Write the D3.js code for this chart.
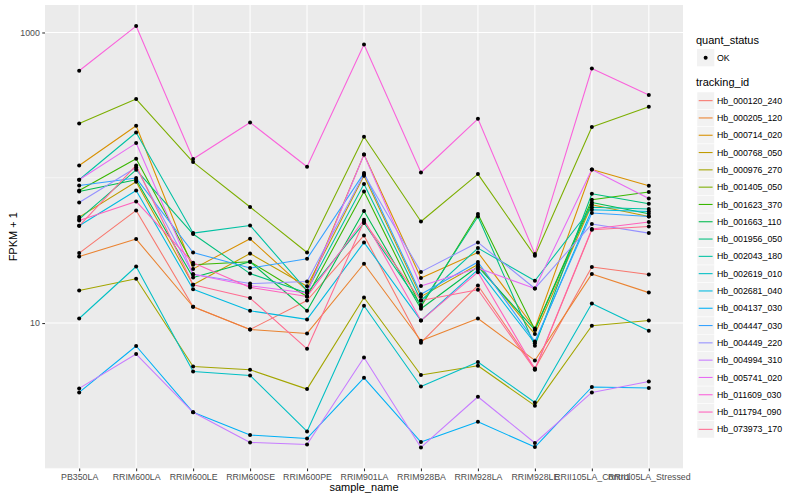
<!DOCTYPE html>
<html>
<head>
<meta charset="utf-8">
<script src="https://cdn.jsdelivr.net/npm/d3@7"></script>
<style>
  body { margin: 0; background: #fff; }
  text { font-family: "Liberation Sans", Arial, Helvetica, sans-serif; }
</style>
</head>
<body>
<svg id="chart" width="800" height="500"></svg>
<script>
/* ============================================================
   DATA  (FPKM + 1, one array per tracking id)
   ============================================================ */
const SAMPLES = ['PB350LA', 'RRIM600LA', 'RRIM600LE', 'RRIM600SE', 'RRIM600PE', 'RRIM901LA',
                 'RRIM928BA', 'RRIM928LA', 'RRIM928LE', 'RRII105LA_Control', 'RRII105LA_Stressed'];

const TRACKING_IDS = ['Hb_000120_240', 'Hb_000205_120', 'Hb_000714_020', 'Hb_000768_050', 'Hb_000976_270',
                      'Hb_001405_050', 'Hb_001623_370', 'Hb_001663_110', 'Hb_001956_050', 'Hb_002043_180',
                      'Hb_002619_010', 'Hb_002681_040', 'Hb_004137_030', 'Hb_004447_030', 'Hb_004449_220',
                      'Hb_004994_310', 'Hb_005741_020', 'Hb_011609_030', 'Hb_011794_090', 'Hb_073973_170'];

const SERIES_COLORS = ['#F8766D', '#EA8331', '#D89000', '#C09B00', '#A3A500', '#7CAE00', '#39B600', '#00BB4E',
                       '#00BF7D', '#00C1A3', '#00BFC4', '#00BAE0', '#00B0F6', '#35A2FF', '#9590FF', '#C77CFF',
                       '#E76BF3', '#FA62DB', '#FF62BC', '#FF6C91'];

const Hb_000120_240 = [30.3, 59.6, 12.95, 9.03, 14.3, 40.1, 7.32, 18.15, 4.87, 24.3, 21.6];
const Hb_000205_120 = [28.7, 37.85, 12.95, 9.03, 8.48, 25.6, 7.55, 10.75, 5.53, 21.8, 16.2];
const Hb_000714_020 = [121.5, 228, 23.6, 38.0, 16.7, 144.7, 20.4, 30.6, 9.18, 114, 88.1];
const Hb_000768_050 = [53.6, 93.9, 18.35, 30.1, 17.9, 103.2, 15.2, 25.3, 8.40, 65.2, 54.2];
const Hb_000976_270 = [16.77, 20.2, 5.03, 4.77, 3.51, 15.0, 4.39, 5.08, 2.70, 9.58, 10.4];
const Hb_001405_050 = [236.5, 348, 128.2, 62.9, 30.6, 191.5, 50.0, 106.0, 29.05, 223.3, 308];
const Hb_001623_370 = [81.7, 135.1, 25.2, 26.4, 15.25, 80.5, 12.95, 56.3, 8.99, 70.6, 79.7];
const Hb_001663_110 = [80.5, 96.9, 20.6, 26.4, 12.15, 59.0, 12.54, 24.5, 8.99, 67.6, 56.5];
const Hb_001956_050 = [51.97, 113.5, 41.0, 21.9, 16.1, 48.8, 13.3, 54.2, 6.98, 77.6, 66.2];
const Hb_002043_180 = [96.9, 205, 41.6, 47.0, 16.7, 90.5, 14.3, 32.8, 19.55, 62.65, 60.9];
const Hb_002619_010 = [10.75, 24.5, 4.64, 4.36, 1.795, 13.15, 3.66, 5.39, 2.84, 13.65, 8.85];
const Hb_002681_040 = [46.7, 81.7, 17.1, 12.15, 10.6, 35.9, 10.4, 23.3, 7.26, 60.2, 58.6];
const Hb_004137_030 = [3.33, 6.95, 2.43, 1.695, 1.606, 4.20, 1.517, 2.09, 1.402, 3.63, 3.57];
const Hb_004447_030 = [88.5, 99.5, 30.6, 23.9, 27.7, 107.7, 15.8, 26.3, 7.47, 57.2, 54.2];
const Hb_004449_220 = [67.6, 117.7, 21.7, 18.7, 19.3, 105.7, 22.5, 35.9, 17.3, 48.0, 41.6];
const Hb_004994_310 = [3.55, 6.12, 2.43, 1.508, 1.46, 5.80, 1.393, 3.11, 1.494, 3.33, 3.96];
const Hb_005741_020 = [96.9, 173.3, 21.7, 18.06, 16.1, 144.7, 17.97, 23.9, 17.3, 114, 72.0];
const Hb_011609_030 = [545, 1107, 134.5, 240.3, 119.0, 826.5, 108.7, 254.7, 29.85, 565, 370.7];
const Hb_011794_090 = [50.8, 68.7, 26.0, 17.6, 15.25, 51.4, 10.4, 22.4, 4.81, 44.4, 49.6];
const Hb_073973_170 = [46.7, 121.5, 18.35, 14.86, 6.65, 50.0, 14.3, 16.95, 4.77, 43.85, 46.2];

const SERIES_VALUES = [Hb_000120_240, Hb_000205_120, Hb_000714_020, Hb_000768_050, Hb_000976_270,
                       Hb_001405_050, Hb_001623_370, Hb_001663_110, Hb_001956_050, Hb_002043_180,
                       Hb_002619_010, Hb_002681_040, Hb_004137_030, Hb_004447_030, Hb_004449_220,
                       Hb_004994_310, Hb_005741_020, Hb_011609_030, Hb_011794_090, Hb_073973_170];

const Y_BREAKS = [10, 1000];
const Y_MINOR  = [1, 100];

/* ============================================================
   SCALES
   ============================================================ */
const P = { left: 45, right: 683, top: 5, bottom: 468.5 };
const svg = d3.select('#chart');

const x = d3.scalePoint().domain(SAMPLES).range([P.left, P.right]).padding(0.6);

const logs = SERIES_VALUES.flat().map(Math.log10);
const lo = d3.min(logs), hi = d3.max(logs), ex = (hi - lo) * 0.05;
const y = d3.scaleLog().domain([10 ** (lo - ex), 10 ** (hi + ex)]).range([P.bottom, P.top]);

/* ============================================================
   PANEL
   ============================================================ */
svg.append('rect').attr('x', P.left).attr('y', P.top)
  .attr('width', P.right - P.left).attr('height', P.bottom - P.top).attr('fill', '#EBEBEB');

const grid = svg.append('g');
Y_MINOR.filter(v => y(v) >= P.top && y(v) <= P.bottom).forEach(v => {
  grid.append('line').attr('x1', P.left).attr('x2', P.right).attr('y1', y(v)).attr('y2', y(v))
    .attr('stroke', '#fff').attr('stroke-width', 0.53);
});
Y_BREAKS.forEach(v => {
  grid.append('line').attr('x1', P.left).attr('x2', P.right).attr('y1', y(v)).attr('y2', y(v))
    .attr('stroke', '#fff').attr('stroke-width', 1.07);
});
SAMPLES.forEach(s => {
  grid.append('line').attr('x1', x(s)).attr('x2', x(s)).attr('y1', P.top).attr('y2', P.bottom)
    .attr('stroke', '#fff').attr('stroke-width', 1.07);
});

/* ============================================================
   LINES + POINTS
   ============================================================ */
const line = d3.line().x((d, i) => x(SAMPLES[i])).y(d => y(d));

SERIES_VALUES.forEach((vals, k) => {
  svg.append('path').attr('d', line(vals)).attr('fill', 'none')
    .attr('stroke', SERIES_COLORS[k]).attr('stroke-width', 1.07).attr('stroke-linejoin', 'round');
});
SERIES_VALUES.forEach(vals => {
  vals.forEach((v, i) => {
    svg.append('circle').attr('cx', x(SAMPLES[i])).attr('cy', y(v)).attr('r', 2).attr('fill', '#000');
  });
});

/* ============================================================
   AXES
   ============================================================ */
function styleAxis(g) {
  g.select('.domain').remove();
  g.selectAll('.tick line').attr('stroke', '#333').attr('stroke-width', 1.07);
  g.selectAll('.tick text').attr('fill', '#4D4D4D').style('font-size', '8.8px')
    .style('font-family', '"Liberation Sans", Arial, sans-serif');
}

svg.append('g').attr('transform', `translate(${P.left},0)`)
  .call(d3.axisLeft(y).tickValues(Y_BREAKS).tickFormat(d3.format('d')).tickSize(2.75).tickPadding(2.4))
  .call(styleAxis);

svg.append('g').attr('transform', `translate(0,${P.bottom})`)
  .call(d3.axisBottom(x).tickSize(2.75).tickPadding(2.4))
  .call(styleAxis);

svg.append('text').attr('x', (P.left + P.right) / 2).attr('y', 490.5).attr('text-anchor', 'middle')
  .style('font-size', '11px').attr('fill', '#000').text('sample_name');

svg.append('text').attr('transform', `translate(16.5,${(P.top + P.bottom) / 2}) rotate(-90)`)
  .attr('text-anchor', 'middle').style('font-size', '11px').attr('fill', '#000').text('FPKM + 1');

/* ============================================================
   LEGEND
   ============================================================ */
const lg = svg.append('g').attr('transform', 'translate(696,0)');
const KEY = 17.3;

lg.append('text').attr('x', 0).attr('y', 44).style('font-size', '11px').text('quant_status');
lg.append('rect').attr('x', 1).attr('y', 49).attr('width', KEY).attr('height', KEY).attr('fill', '#F2F2F2');
lg.append('circle').attr('cx', 1 + KEY / 2).attr('cy', 49 + KEY / 2).attr('r', 2).attr('fill', '#000');
lg.append('text').attr('x', 21).attr('y', 49 + KEY / 2 + 3.1).style('font-size', '8.8px').text('OK');

lg.append('text').attr('x', 0).attr('y', 85.5).style('font-size', '11px').text('tracking_id');
TRACKING_IDS.forEach((id, k) => {
  const ky = 92 + k * KEY;
  lg.append('rect').attr('x', 1).attr('y', ky).attr('width', KEY).attr('height', KEY)
    .attr('fill', '#F2F2F2').attr('stroke', '#fff').attr('stroke-width', 0.5);
  lg.append('line').attr('x1', 2.7).attr('x2', KEY - 0.7).attr('y1', ky + KEY / 2).attr('y2', ky + KEY / 2)
    .attr('stroke', SERIES_COLORS[k]).attr('stroke-width', 1.07);
  lg.append('text').attr('x', 21).attr('y', ky + KEY / 2 + 3.1).style('font-size', '8.8px').text(id);
});
</script>
</body>
</html>
